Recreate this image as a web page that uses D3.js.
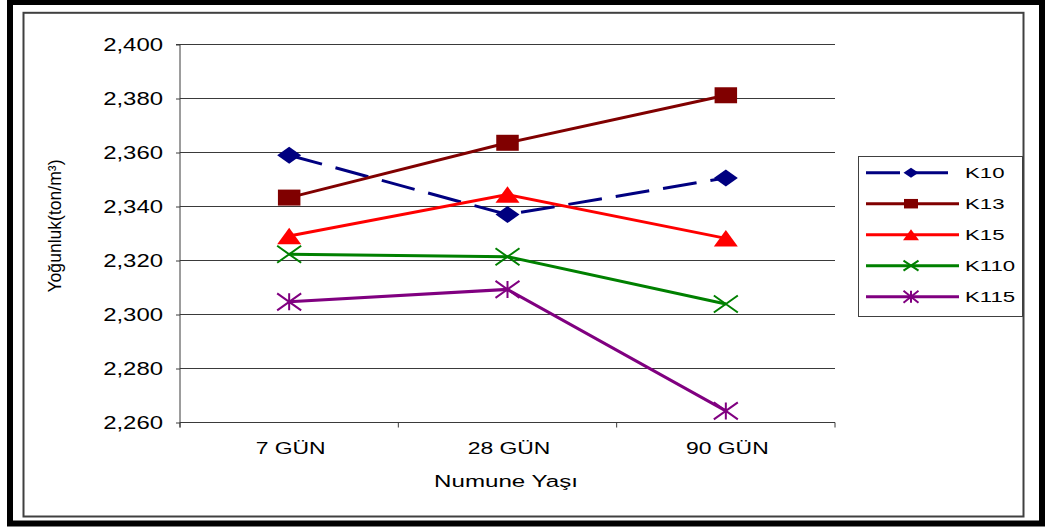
<!DOCTYPE html>
<html>
<head>
<meta charset="utf-8">
<script src="https://cdn.jsdelivr.net/npm/d3@7"></script>
<style>
  html, body { margin: 0; padding: 0; background: #fff; }
  svg { display: block; font-family: Arial, "Liberation Sans", sans-serif; }
</style>
</head>
<body>
<svg id="chart" width="1050" height="532"></svg>
<script>
// Sample ages (x categories)
const categories = ["7 GÜN", "28 GÜN", "90 GÜN"];

// Density values (ton/m³) per mix
const seriesNames = ["K10", "K13", "K15", "K110", "K115"];
const k10  = [2.359, 2.337, 2.3506];
const k13  = [2.3433, 2.3636, 2.3812];
const k15  = [2.3291, 2.3444, 2.3282];
const k110 = [2.3223, 2.3214, 2.3039];
const k115 = [2.3047, 2.3093, 2.2643];

// Y axis ticks
const yTicks = [2.26, 2.28, 2.30, 2.32, 2.34, 2.36, 2.38, 2.40];
const yTickLabels = ["2,260", "2,280", "2,300", "2,320", "2,340", "2,360", "2,380", "2,400"];

const xTitle = "Numune Yaşı";
const yTitle = "Yoğunluk(ton/m³)";

const series = [
  { name: seriesNames[0], values: k10,  color: "#000080", marker: "diamond",  dash: "34,14" },
  { name: seriesNames[1], values: k13,  color: "#800000", marker: "square",   dash: null },
  { name: seriesNames[2], values: k15,  color: "#FF0000", marker: "triangle", dash: null },
  { name: seriesNames[3], values: k110, color: "#008000", marker: "x",        dash: null },
  { name: seriesNames[4], values: k115, color: "#800080", marker: "star",     dash: null }
];

const svg = d3.select("#chart");

// Outer black frame and inner grey chart-area frame
svg.append("rect").attr("x", 10).attr("y", 2).attr("width", 1032).attr("height", 521.5)
  .attr("fill", "none").attr("stroke", "#000").attr("stroke-width", 6);
svg.append("rect").attr("x", 23.5).attr("y", 12.8).attr("width", 1000).attr("height", 503.7)
  .attr("fill", "#fff").attr("stroke", "#404040").attr("stroke-width", 2);

const plot = { left: 180, right: 835, top: 44.5, bottom: 422.5 };

const x = d3.scaleBand().domain(categories).range([plot.left, plot.right]).padding(0);
const cx = c => x(c) + x.bandwidth() / 2;
const y = d3.scaleLinear().domain([2.26, 2.40]).range([plot.bottom, plot.top]);

// Horizontally widened text helper
function wideText(g, tx, ty, str, size, sx, anchor) {
  return g.append("text")
    .attr("transform", `translate(${tx},${ty}) scale(${sx},1)`)
    .attr("text-anchor", anchor)
    .attr("font-size", size)
    .attr("fill", "#000")
    .text(str);
}

// Gridlines
svg.append("g").selectAll("line").data(yTicks.slice(1)).join("line")
  .attr("x1", plot.left).attr("x2", plot.right)
  .attr("y1", d => y(d)).attr("y2", d => y(d))
  .attr("stroke", "#3a3a3a").attr("stroke-width", 1);

// Y axis
const yAxis = d3.axisLeft(y).tickValues(yTicks).tickSize(4).tickFormat("");
const yg = svg.append("g").attr("transform", `translate(${plot.left},0)`).call(yAxis);
yg.select(".domain").attr("stroke", "#3a3a3a").attr("d", `M-4,${plot.top}H0V${plot.bottom + 5}`);
yg.selectAll(".tick line").attr("stroke", "#3a3a3a");

const yLab = svg.append("g");
yTicks.forEach((t, i) => {
  wideText(yLab, 163, y(t) + 6.4, yTickLabels[i], 18, 1.33, "end");
});

// X axis (category boundaries ticks)
const xg = svg.append("g").attr("transform", `translate(0,${plot.bottom})`);
xg.append("line").attr("x1", plot.left).attr("x2", plot.right).attr("y1", 0).attr("y2", 0)
  .attr("stroke", "#3a3a3a");
const bounds = categories.map(c => x(c)).concat([x(categories[categories.length - 1]) + x.bandwidth()]);
xg.selectAll("line.tk").data(bounds).join("line").attr("class", "tk")
  .attr("x1", d => d).attr("x2", d => d).attr("y1", 0).attr("y2", 5)
  .attr("stroke", "#3a3a3a");
categories.forEach(c => {
  wideText(xg, cx(c) + 1.5, 31, c, 16, 1.43, "middle");
});

// Axis titles
wideText(svg, 506, 486.5, xTitle, 17, 1.42, "middle");
svg.append("text")
  .attr("transform", `translate(61,226) scale(1.35,1) rotate(-90)`)
  .attr("text-anchor", "middle")
  .attr("font-size", 13)
  .attr("textLength", 133)
  .attr("lengthAdjust", "spacingAndGlyphs")
  .text(yTitle);

// Marker shapes (w = width, h = height in screen px)
function drawMarker(g, type, px, py, w, h, color) {
  const hw = w / 2, hh = h / 2;
  if (type === "diamond") {
    g.append("path").attr("d", `M${px},${py - hh}L${px + hw},${py}L${px},${py + hh}L${px - hw},${py}Z`)
      .attr("fill", color);
  } else if (type === "square") {
    g.append("rect").attr("x", px - hw).attr("y", py - hh).attr("width", w).attr("height", h)
      .attr("fill", color);
  } else if (type === "triangle") {
    g.append("path").attr("d", `M${px},${py - hh}L${px + hw},${py + hh}L${px - hw},${py + hh}Z`)
      .attr("fill", color);
  } else if (type === "x") {
    g.append("path").attr("d", `M${px - hw},${py - hh}L${px + hw},${py + hh}M${px - hw},${py + hh}L${px + hw},${py - hh}`)
      .attr("stroke", color).attr("stroke-width", 2).attr("fill", "none");
  } else if (type === "star") {
    g.append("path").attr("d", `M${px - hw},${py - hh}L${px + hw},${py + hh}M${px - hw},${py + hh}L${px + hw},${py - hh}M${px},${py - hh}L${px},${py + hh}`)
      .attr("stroke", color).attr("stroke-width", 2).attr("fill", "none");
  }
}

const markerSize = {
  diamond: [24, 17], square: [22.5, 16], triangle: [24, 16.5], x: [24, 17], star: [24, 17]
};
const legendMarkerSize = {
  diamond: [15, 10], square: [14, 9.5], triangle: [16, 11], x: [15, 10], star: [15, 12]
};

const line = d3.line().x((d, i) => cx(categories[i])).y(d => y(d));

// Series lines and markers
series.forEach(s => {
  const g = svg.append("g");
  g.append("path").datum(s.values).attr("d", line)
    .attr("fill", "none").attr("stroke", s.color).attr("stroke-width", 3)
    .attr("stroke-dasharray", s.dash);
  s.values.forEach((v, i) => {
    const [w, h] = markerSize[s.marker];
    drawMarker(g, s.marker, cx(categories[i]), y(v), w, h, s.color);
  });
});

// Legend
const lg = svg.append("g");
lg.append("rect").attr("x", 858.5).attr("y", 156.5).attr("width", 164).attr("height", 160)
  .attr("fill", "#fff").attr("stroke", "#404040").attr("stroke-width", 1);
series.forEach((s, i) => {
  const ly = 172.7 + i * 31;
  lg.append("line").attr("x1", 866).attr("x2", 959).attr("y1", ly).attr("y2", ly)
    .attr("stroke", s.color).attr("stroke-width", 3).attr("stroke-dasharray", s.dash);
  const [w, h] = legendMarkerSize[s.marker];
  drawMarker(lg, s.marker, 911, ly, w, h, s.color);
  wideText(lg, 965, ly + 5.5, s.name, 15, 1.48, "start");
});
</script>
</body>
</html>
